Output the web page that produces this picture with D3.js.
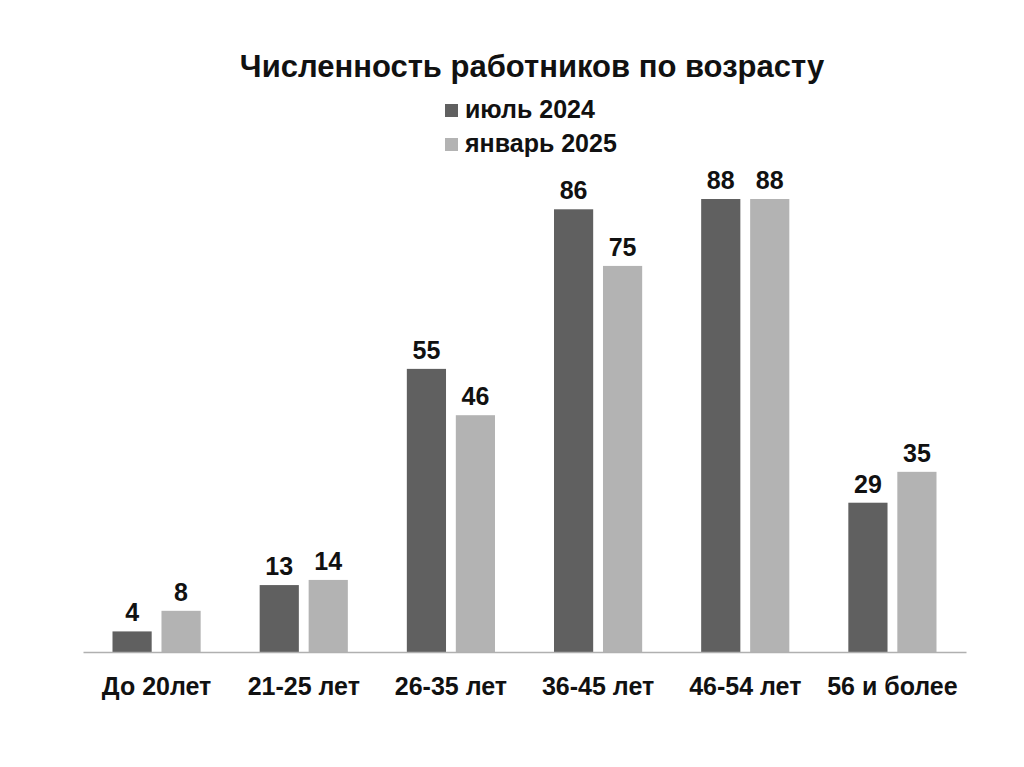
<!DOCTYPE html>
<html><head><meta charset="utf-8">
<script src="https://cdn.jsdelivr.net/npm/d3@7"></script>
<style>body{margin:0;background:#fff;} text{font-family:"Liberation Sans",Arial,sans-serif;font-weight:bold;}</style>
</head><body>
<svg id="c" width="1024" height="767"></svg>
<script>
const categories = ["До 20лет","21-25 лет","26-35 лет","36-45 лет","46-54 лет","56 и более"];
const seriesNames = ["июль 2024","январь 2025"];
const july2024 = [4,13,55,86,88,29];
const jan2025 = [8,14,46,75,88,35];
const colors = ["#606060","#b3b3b3"];

const svg = d3.select("#c");
const x0 = d3.scaleBand().domain(categories).range([83,966]).paddingInner(0).paddingOuter(0);
const x1 = d3.scaleBand().domain(seriesNames).range([29.5, x0.bandwidth()-29.5]).paddingInner(0.2);
const y = d3.scaleLinear().domain([0,88]).range([652,199]);

const data = categories.map((c,i)=>({cat:c, vals:[july2024[i], jan2025[i]]}));

const g = svg.append("g").selectAll("g").data(data).join("g")
  .attr("transform", d=>`translate(${x0(d.cat)},0)`);
g.selectAll("rect").data(d=>d.vals.map((v,j)=>({v,s:seriesNames[j],j}))).join("rect")
  .attr("x", d=>x1(d.s)).attr("width", x1.bandwidth())
  .attr("y", d=>y(d.v)).attr("height", d=>y(0)-y(d.v))
  .attr("fill", d=>colors[d.j]);
g.selectAll("text.v").data(d=>d.vals.map((v,j)=>({v,s:seriesNames[j],j}))).join("text")
  .attr("class","v")
  .attr("x", d=>x1(d.s)+x1.bandwidth()/2).attr("y", d=>y(d.v)-10)
  .attr("text-anchor","middle").attr("font-size",25).attr("fill","#111")
  .text(d=>d.v);

const ax = svg.append("g").attr("transform","translate(0,652)")
  .call(d3.axisBottom(x0).tickSize(0).tickPadding(25));
ax.select(".domain").attr("stroke","#b0b0b0").attr("stroke-width",1.5);
ax.selectAll(".tick text").attr("font-size",25).attr("fill","#111")
  .style("font-family","Liberation Sans, Arial, sans-serif").style("font-weight","bold");

svg.append("text").attr("x",532).attr("y",77).attr("text-anchor","middle")
  .attr("font-size",31).attr("fill","#111").text("Численность работников по возрасту");

const lg = svg.append("g").selectAll("g").data(seriesNames).join("g")
  .attr("transform",(d,i)=>`translate(445,${104+i*34})`);
lg.append("rect").attr("width",13).attr("height",13).attr("fill",(d,i)=>colors[i]);
lg.append("text").attr("x",20).attr("y",14).attr("font-size",25).attr("fill","#111").text(d=>d);
</script>
</body></html>
